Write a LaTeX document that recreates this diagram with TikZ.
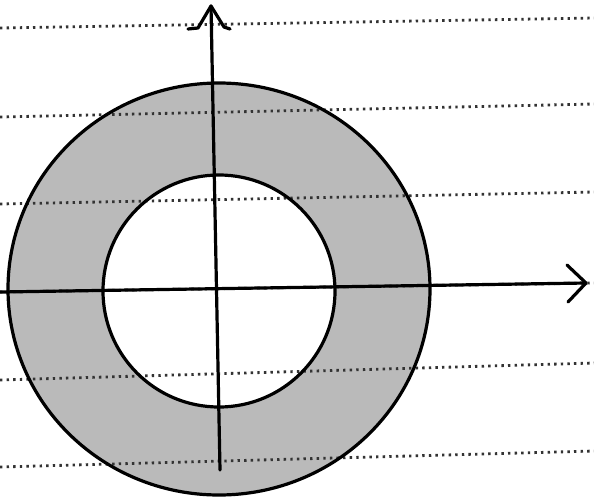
\documentclass[tikz,border=0pt]{standalone}
\begin{document}
\begin{tikzpicture}[x=1pt,y=-1pt,
  ruled/.style={line width=2.8pt, dash pattern=on 2.4pt off 4.2pt, black!80},
  ink/.style={line width=3.2pt, black, line cap=round, line join=round},
  shade/.style={fill=black!27}]
\useasboundingbox (0,0) rectangle (594,501);
\fill[white] (0,0) rectangle (594,501);
% centres
\coordinate (c) at (219,289);
\coordinate (ci) at (219,291);
% annulus fill
\fill[shade, even odd rule] (c) ellipse [x radius=211, y radius=206] (ci) circle [radius=116];
% ruled dotted lines
\foreach \a/\b in {28/18,117/104,204/192,292/283,380/363,467/451}{
  \draw[ruled] (0,\a) -- (594,\b);
}
% circle outlines
\draw[ink] (c) ellipse [x radius=211, y radius=206];
\draw[ink] (ci) circle [radius=116];
% axes
\coordinate (yb) at (220,470);
\coordinate (yt) at (211,6);
\coordinate (xl) at (0,292);
\coordinate (xr) at (586,283);
\draw[ink] (yb) -- (yt);
\draw[ink] (xl) -- (xr);
% arrowheads
\draw[ink] (188,29) -- (198,28) -- (yt) -- (224,27) -- (230,29);
\draw[ink] (567,265) -- (xr) -- (568,302);
\end{tikzpicture}
\end{document}
